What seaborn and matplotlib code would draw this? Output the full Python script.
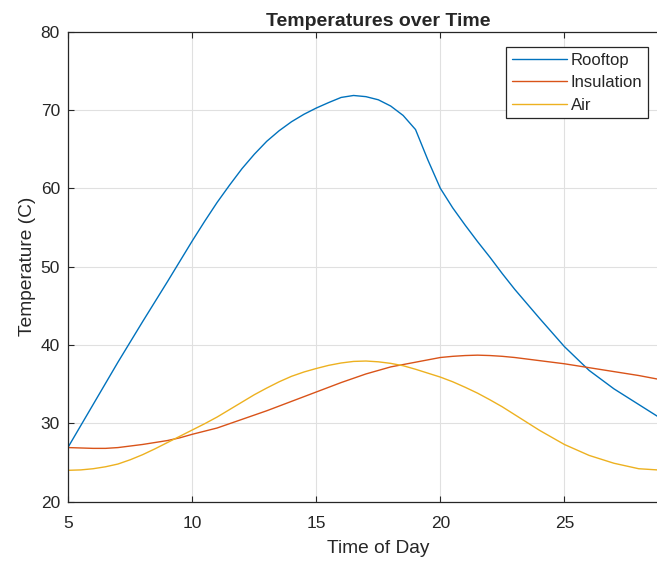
import matplotlib
matplotlib.use('Agg')
import matplotlib.pyplot as plt
import pandas as pd
import seaborn as sns

# time of day (hours) and temperatures
hours = [5, 5.5, 6, 6.5, 7, 7.5, 8, 8.5, 9, 9.5,
         10, 10.5, 11, 11.5, 12, 12.5, 13, 13.5, 14, 14.5,
         15, 15.5, 16, 16.5, 17, 17.5, 18, 18.5, 19, 19.5,
         20, 20.5, 21, 21.5, 22, 22.5, 23,
         24, 25, 26, 27, 28, 29]

rooftop = [27.0, 29.7, 32.4, 35.1, 37.8, 40.4, 43.0, 45.55, 48.1, 50.7,
           53.3, 55.8, 58.2, 60.4, 62.5, 64.35, 66.0, 67.35, 68.5, 69.45,
           70.25, 70.95, 71.6, 71.85, 71.7, 71.3, 70.5, 69.3, 67.5, 63.6,
           60.0, 57.5, 55.3, 53.2, 51.2, 49.1, 47.1,
           43.4, 39.8, 36.75, 34.4, 32.4, 30.4]

insulation = [26.9, 26.85, 26.8, 26.8, 26.9, 27.1, 27.3, 27.55, 27.8, 28.15,
              28.6, 29.0, 29.4, 29.95, 30.5, 31.05, 31.6, 32.2, 32.8, 33.4,
              34.0, 34.6, 35.2, 35.75, 36.3, 36.75, 37.2, 37.5, 37.8, 38.1,
              38.4, 38.55, 38.65, 38.7, 38.65, 38.55, 38.4,
              38.0, 37.6, 37.1, 36.6, 36.1, 35.5]

air = [24.0, 24.05, 24.2, 24.45, 24.8, 25.35, 26.0, 26.75, 27.55, 28.35,
       29.15, 29.95, 30.8, 31.75, 32.7, 33.65, 34.5, 35.3, 36.0, 36.55,
       37.0, 37.4, 37.7, 37.9, 37.95, 37.85, 37.65, 37.35, 36.9, 36.4,
       35.9, 35.3, 34.6, 33.85, 33.0, 32.1, 31.1,
       29.1, 27.3, 25.9, 24.9, 24.2, 24.0]

series_names = ['Rooftop', 'Insulation', 'Air']
colors = ['#0072BD', '#D95319', '#EDB120']

df = pd.concat([
    pd.DataFrame({'time': hours, 'temp': vals, 'series': name})
    for name, vals in zip(series_names, [rooftop, insulation, air])
])

sns.set_style('whitegrid', {'grid.color': '#e0e0e0', 'axes.edgecolor': '#262626'})
plt.rcParams['font.family'] = ['Liberation Sans', 'DejaVu Sans']

fig = plt.figure(figsize=(6.57, 5.63), dpi=100)
# right edge of the axes runs past the figure, as in the cropped original
ax = fig.add_axes([0.104, 0.109, 0.9437, 0.8348])

sns.lineplot(data=df, x='time', y='temp', hue='series', palette=colors,
             hue_order=series_names, linewidth=1.0, ax=ax, sort=True)

ax.set_xlim(5, 30)
ax.set_ylim(20, 80)
ax.set_xticks([5, 10, 15, 20, 25])
ax.set_yticks([20, 30, 40, 50, 60, 70, 80])
ax.grid(True, color='#e0e0e0', linewidth=0.8)

for side in ['left', 'bottom', 'top', 'right']:
    ax.spines[side].set_visible(True)
    ax.spines[side].set_color('#262626')
    ax.spines[side].set_linewidth(0.9)

ax.tick_params(direction='in', length=4.5, width=0.8, color='#262626',
               labelcolor='#262626', labelsize=12.5, top=True, right=True,
               bottom=True, left=True)
ax.tick_params(axis='x', pad=10)
ax.tick_params(axis='y', pad=6)

ax.set_title('Temperatures over Time', fontsize=14, fontweight='bold', pad=4)
ax.set_xlabel('Time of Day', fontsize=13.8, color='#262626', labelpad=7)
ax.set_ylabel('Temperature (C)', fontsize=13.8, color='#262626', labelpad=3)

leg = ax.legend(loc='upper right', bbox_to_anchor=(0.935, 0.968), borderaxespad=0,
                fontsize=12, frameon=True, fancybox=False, handlelength=3.3,
                handletextpad=0.2, labelspacing=0.45, borderpad=0.35)
leg.get_frame().set_edgecolor('#262626')
leg.get_frame().set_linewidth(0.9)
leg.get_frame().set_alpha(1)
for t in leg.get_texts():
    t.set_color('#262626')

plt.savefig('out.png', dpi=100)
